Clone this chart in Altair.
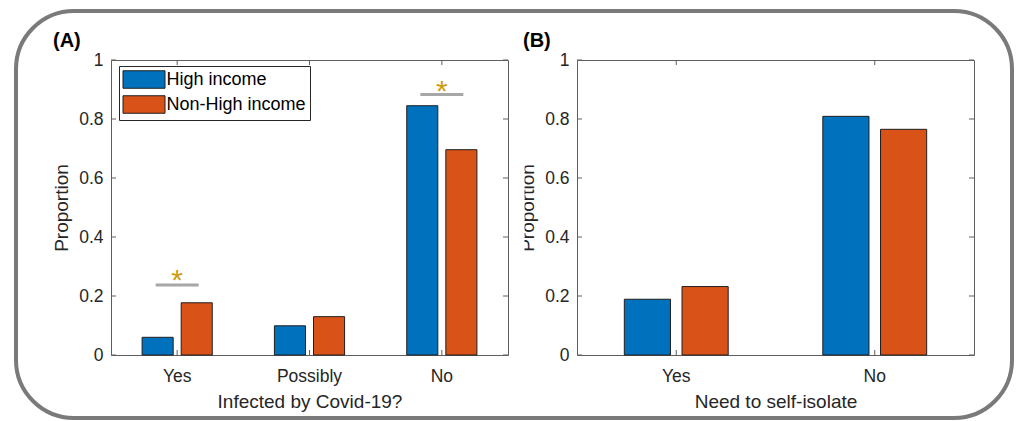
import altair as alt
import pandas as pd

# ---------------- data ----------------
cats_a = ["Yes", "Possibly", "No"]
high_a = [0.060, 0.099, 0.845]
nonhigh_a = [0.177, 0.130, 0.696]

cats_b = ["Yes", "No"]
high_b = [0.189, 0.809]
nonhigh_b = [0.232, 0.765]

groups = ["High income", "Non-High income"]
colors = ["#0072BD", "#D95319"]

sig_cats = ["Yes", "No"]
sig_line = [0.237, 0.883]
sig_star = [0.277, 0.920]

y_ticks = [0, 0.2, 0.4, 0.6, 0.8, 1]

# ---------------- style ----------------
W, H = 397, 295
FONT = "Liberation Sans"
TXT = "#262626"
BOX = "#5e5e5e"
LBL = 17.5
TTL = 19


def bars_df(cats, h, n):
    rows = []
    for c, a, b in zip(cats, h, n):
        rows.append({"cat": c, "grp": groups[0], "val": a})
        rows.append({"cat": c, "grp": groups[1], "val": b})
    return pd.DataFrame(rows)


def panel(cats, h, n, xtitle, letter, letter_x, off_pad_outer, off_pad_inner,
          with_legend, sig=False, border=False, cover=False):
    xscale = alt.Scale(domain=cats, paddingInner=0, paddingOuter=0)
    yscale = alt.Scale(domain=[0, 1], nice=False, zero=True)
    xaxis = alt.Axis(title=xtitle, labelAngle=0, ticks=False, domain=False, grid=False,
                     labelPadding=12, titlePadding=8, labelFont=FONT, titleFont=FONT,
                     labelFontSize=LBL, titleFontSize=TTL, titleFontWeight="normal",
                     labelColor=TXT, titleColor=TXT)
    yaxis = alt.Axis(title="Proportion", values=y_ticks, format="~g", ticks=False,
                     domain=False, grid=False, labelPadding=8, titlePadding=7,
                     labelFont=FONT, titleFont=FONT, labelFontSize=LBL,
                     titleFontSize=TTL, titleFontWeight="normal",
                     labelColor=TXT, titleColor=TXT)
    X = alt.X("cat:N", sort=cats, scale=xscale, axis=xaxis)
    Y = lambda f: alt.Y(f, type="quantitative", scale=yscale, axis=yaxis)

    if with_legend:
        legend = alt.Legend(title=None, orient="none", legendX=8, legendY=6,
                            direction="vertical",
                            symbolType="M-2.4,-1L2.4,-1L2.4,1L-2.4,1Z",
                            symbolSize=306.25, symbolOffset=11.5,
                            symbolStrokeColor="#1f1f1f",
                            symbolStrokeWidth=1, symbolOpacity=1,
                            labelFont=FONT, labelFontSize=18, labelColor="black",
                            labelOffset=13, rowPadding=2, strokeColor="#262626",
                            fillColor="white", padding=4)
    else:
        legend = None

    layers = []
    if border:
        layers.append(
            alt.Chart(pd.DataFrame({"k": [0]})).mark_rect(
                fillOpacity=0, stroke="#7a7a7a", strokeWidth=4, cornerRadius=58
            ).encode(x=alt.value(-95), x2=alt.value(901), y=alt.value(-49), y2=alt.value(358))
        )

    bars = alt.Chart(bars_df(cats, h, n)).mark_bar(stroke="#1f1f1f", strokeWidth=1).encode(
        x=X,
        xOffset=alt.XOffset("grp:N", sort=groups,
                            scale=alt.Scale(domain=groups, paddingInner=off_pad_inner,
                                            paddingOuter=off_pad_outer)),
        y=Y("val"),
        color=alt.Color("grp:N", scale=alt.Scale(domain=groups, range=colors), legend=legend),
    )
    layers.append(bars)

    if sig:
        sdf = pd.DataFrame({"cat": sig_cats, "line": sig_line, "star": sig_star})
        layers.append(alt.Chart(sdf).mark_tick(color="#828282", thickness=3, size=43)
                      .encode(x=X, y=Y("line")))
        layers.append(alt.Chart(sdf).mark_text(text="*", font=FONT, fontSize=30,
                                               color="#CF9C10", dy=8)
                      .encode(x=X, y=Y("star")))

    tdf = pd.DataFrame({"v": y_ticks})
    cdf = pd.DataFrame({"cat": cats})
    rule = dict(color=BOX, strokeWidth=1)
    layers.append(alt.Chart(tdf).mark_rule(**rule).encode(y=Y("v"), x=alt.value(0), x2=alt.value(5)))
    layers.append(alt.Chart(tdf).mark_rule(**rule).encode(y=Y("v"), x=alt.value(W - 5), x2=alt.value(W)))
    layers.append(alt.Chart(cdf).mark_rule(**rule).encode(x=X, y=alt.value(0), y2=alt.value(5)))
    layers.append(alt.Chart(cdf).mark_rule(**rule).encode(x=X, y=alt.value(H - 5), y2=alt.value(H)))

    layers.append(
        alt.Chart(pd.DataFrame({"t": [letter]})).mark_text(
            font=FONT, fontSize=20, fontWeight="bold", align="left",
            baseline="alphabetic", color="black"
        ).encode(text="t:N", x=alt.value(letter_x), y=alt.value(-13))
    )
    if cover:
        layers.append(
            alt.Chart(pd.DataFrame({"k": [0]})).mark_rect(fill="white")
            .encode(x=alt.value(-62), x2=alt.value(-52.5), y=alt.value(100), y2=alt.value(210))
        )

    return alt.layer(*layers).properties(width=W, height=H)


pa = panel(cats_a, high_a, nonhigh_a, "Infected by Covid-19?", "(A)", -58,
           0.795, 0.205, True, sig=True, border=True)
pb = panel(cats_b, high_b, nonhigh_b, "Need to self-isolate", "(B)", -54,
           0.82, 0.2, False, cover=True)

chart = alt.hconcat(pa, pb, spacing=69, bounds="flush").resolve_scale(
    color="independent", xOffset="independent"
).properties(
    padding={"left": 13, "top": 8, "right": 0, "bottom": 0},
    background="white",
).configure_view(stroke=BOX, strokeWidth=1)

chart.save("out.html", embed_options={"renderer": "svg", "actions": False})
